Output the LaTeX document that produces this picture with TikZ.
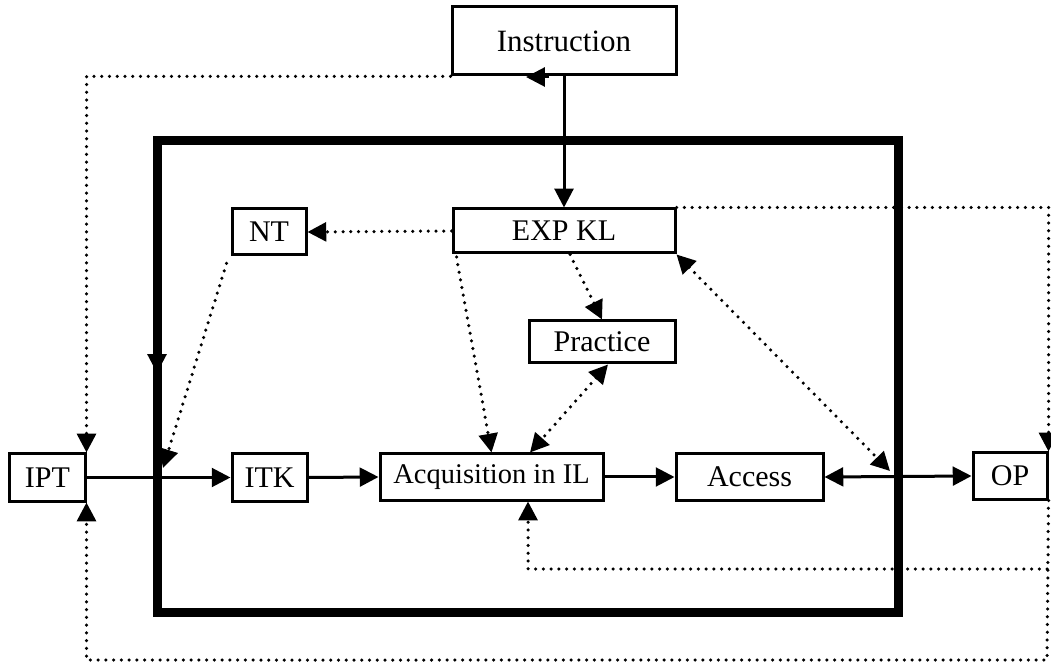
\documentclass[tikz,border=0pt]{standalone}
\usepackage{fontspec}
\setmainfont{Liberation Serif}
\usetikzlibrary{arrows.meta}

\begin{document}
\begin{tikzpicture}[x=0.4pt,y=-0.4pt,line join=miter,>={Triangle[length=7.5pt,width=7.5pt]}]
	\tikzset{box/.style={draw,line width=1.2pt,inner sep=0pt,font=\fontsize{12}{14}\selectfont},
		solidarrow/.style={line width=1.2pt,->},
		solidboth/.style={line width=1.2pt,<->},
		dotline/.style={line width=1.4pt,line cap=round,dash pattern=on 0pt off 3.1pt},
		dotarrow/.style={dotline,->},
		dotboth/.style={dotline,<->}}
	\useasboundingbox (0,0) rectangle (1051,664);
	% thick frame
	\draw[line width=3.6pt] (157,141) rectangle (898,612);
	\draw[line width=1.2pt,->] (157,330) -- (157,373);
	% boxes
	\node[box,minimum width=89.6pt,minimum height=27.2pt,font=\fontsize{12.4}{14}\selectfont] (instr) at (564,41) {Instruction};
	\node[box,minimum width=29.6pt,minimum height=18.4pt] (nt) at (269,232) {NT};
	\node[box,minimum width=88.8pt,minimum height=17.6pt] (expkl) at (564,231) {EXP KL};
	\node[box,minimum width=58.4pt,minimum height=16.8pt] (practice) at (602,342) {Practice};
	\node[box,minimum width=30pt,minimum height=18.8pt] (ipt) at (47.5,477.5) {IPT};
	\node[box,minimum width=30pt,minimum height=18.8pt] (itk) at (269.5,477.5) {ITK};
	\node[box,minimum width=89.2pt,minimum height=18.4pt,font=\fontsize{11.4}{14}\selectfont] (acq) at (491.5,477) {Acquisition in IL};
	\node[box,minimum width=58.8pt,minimum height=18.4pt] (access) at (749.5,477) {Access};
	\node[box,minimum width=29.6pt,minimum height=18.4pt] (op) at (1010,476) {OP};
	\coordinate (lin) at (163,468);
	\coordinate (rin) at (890,471);
	\coordinate (botR) at (1047,660);
	\coordinate (midR) at (1047,569);
	% solid flow
	\draw[solidarrow] (instr.south) -- (expkl.north);
	\draw[solidarrow] (ipt.east) -- (itk.west);
	\draw[solidarrow] (itk.east) -- (acq.west);
	\draw[solidarrow] (acq.east) -- (access.west);
	\draw[solidboth] (access.east) -- (op.west);
	\draw[line width=1.2pt,->] (549,77) -- (526,77);
	% dotted links
	\draw[dotarrow] (expkl.west) -- (nt.east);
	\draw[dotarrow] ([xshift=-1.6pt,yshift=-2.8pt]nt.south west) -- (lin);
	\draw[dotarrow] ([xshift=2pt,yshift=-1pt]expkl.south west) -- (acq.north);
	\draw[dotarrow] ([xshift=2.4pt]expkl.south) -- (practice.north);
	\draw[dotboth] ([xshift=2.4pt]practice.south) -- ([xshift=15.4pt]acq.north);
	\draw[dotboth] (expkl.south east) -- (rin);
	\draw[dotarrow] (instr.south west) -| (ipt.north east);
	\draw[dotarrow] (expkl.north east) -| (op.north east);
	\draw[dotarrow] (op.south east) -- (botR) -| (ipt.south east);
	\draw[dotarrow] (midR) -| ([xshift=14.6pt]acq.south);
\end{tikzpicture}
\end{document}
